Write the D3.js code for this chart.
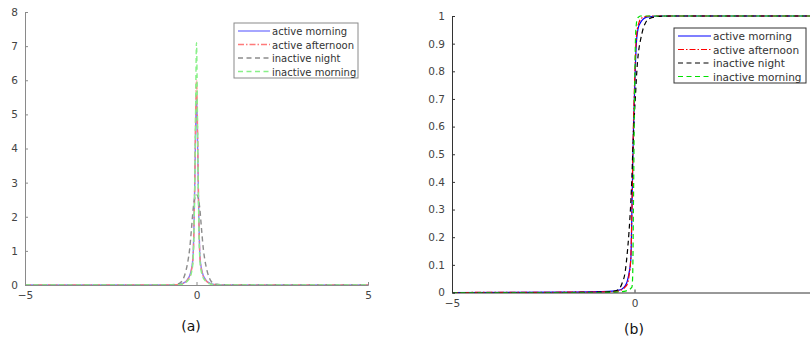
<!DOCTYPE html>
<html>
<head>
<meta charset="utf-8">
<script src="https://cdn.jsdelivr.net/npm/d3@7"></script>
<style>
	body { margin: 0; background: #fff; }
	svg { display: block; font-family: "DejaVu Sans", sans-serif; }
</style>
</head>
<body>
<svg id="chart" width="810" height="342"></svg>
<script>
// series names, shared by both panels
var seriesNames = ['active morning', 'active afternoon', 'inactive night', 'inactive morning'];

// (a) density, x grid + one array per series
var pdfX = [-5, -2, -1, -0.6, -0.5, -0.4, -0.3, -0.25, -0.2, -0.15, -0.1, -0.07, -0.05, -0.03, 0,
	0.03, 0.05, 0.07, 0.1, 0.15, 0.2, 0.25, 0.3, 0.4, 0.5, 0.6, 1, 2, 5];
var pdfActiveMorning = [0, 0, 0, 0.01, 0.02, 0.05, 0.11, 0.18, 0.27, 0.45, 0.85, 1.9, 3.0, 4.3, 5.6,
	4.3, 3.0, 1.9, 0.85, 0.45, 0.27, 0.18, 0.11, 0.05, 0.02, 0.01, 0, 0, 0];
var pdfActiveAfternoon = [0, 0, 0, 0.01, 0.02, 0.04, 0.1, 0.16, 0.25, 0.42, 0.8, 1.9, 3.1, 4.6, 6.0,
	4.6, 3.1, 1.9, 0.8, 0.42, 0.25, 0.16, 0.1, 0.04, 0.02, 0.01, 0, 0, 0];
var pdfInactiveNight = [0, 0, 0, 0.02, 0.05, 0.15, 0.45, 0.7, 1.05, 1.6, 2.2, 2.45, 2.55, 2.62, 2.65,
	2.62, 2.55, 2.45, 2.2, 1.6, 1.05, 0.7, 0.45, 0.15, 0.05, 0.02, 0, 0, 0];
var pdfInactiveMorning = [0, 0, 0, 0.005, 0.01, 0.03, 0.08, 0.13, 0.2, 0.35, 0.7, 1.7, 3.0, 4.8, 7.1,
	4.8, 3.0, 1.7, 0.7, 0.35, 0.2, 0.13, 0.08, 0.03, 0.01, 0.005, 0, 0, 0];

// (b) cumulative, x grid + one array per series
var cdfX = [-5, -2, -1, -0.6, -0.45, -0.35, -0.25, -0.2, -0.15, -0.1, -0.07, -0.05, -0.03, 0,
	0.03, 0.05, 0.08, 0.12, 0.16, 0.2, 0.25, 0.3, 0.4, 0.5, 0.7, 1, 2, 5];
var cdfActiveMorning = [0, 0.001, 0.003, 0.005, 0.008, 0.012, 0.025, 0.04, 0.07, 0.12, 0.3, 0.45, 0.58, 0.72,
	0.84, 0.9, 0.94, 0.965, 0.975, 0.983, 0.99, 0.994, 0.997, 0.999, 1, 1, 1, 1];
var cdfActiveAfternoon = [0, 0.001, 0.002, 0.003, 0.005, 0.01, 0.02, 0.03, 0.06, 0.13, 0.3, 0.46, 0.6, 0.75,
	0.87, 0.92, 0.955, 0.975, 0.988, 0.993, 0.996, 0.998, 1, 1, 1, 1, 1, 1];
var cdfInactiveNight = [0, 0, 0.001, 0.004, 0.01, 0.03, 0.08, 0.14, 0.22, 0.33, 0.42, 0.5, 0.56, 0.65,
	0.72, 0.77, 0.83, 0.88, 0.91, 0.935, 0.96, 0.975, 0.99, 0.995, 0.999, 1, 1, 1];
var cdfInactiveMorning = [0, 0, 0, 0.001, 0.002, 0.003, 0.005, 0.007, 0.01, 0.015, 0.02, 0.06, 0.3, 0.7,
	0.93, 0.97, 0.99, 0.997, 1, 1, 1, 1, 1, 1, 1, 1, 1, 1];

var pdfTicksY = [0, 1, 2, 3, 4, 5, 6, 7, 8];
var cdfTicksY = [0, 0.1, 0.2, 0.3, 0.4, 0.5, 0.6, 0.7, 0.8, 0.9, 1];
var pdfTicksX = [-5, 0, 5];
var cdfTicksX = [-5, 0];   // the 5 falls past the right edge

var dashes = [null, '6,2,1.5,2', '5,3.5', '5,3.5'];
var fadedColors = ['#8080ff', '#ff7a7a', '#8c8c8c', '#88f088'];
var fullColors = ['#0000ff', '#ff0000', '#000000', '#00e000'];

initChart();

function initChart() {
	var svg = d3.select('#chart');

	drawPanel(svg, {
		xRange: [25, 368], yRange: [285, 12], yDomain: [0, 8],
		xs: pdfX, ys: [pdfActiveMorning, pdfActiveAfternoon, pdfInactiveNight, pdfInactiveMorning],
		yTicks: pdfTicksY, xTicks: pdfTicksX, yFmt: d3.format('d'),
		colors: fadedColors, width: 1.4, axisColor: '#8a8a8a', textColor: '#444',
		legend: { x: 234, y: 23, w: 124, h: 55, font: 10, tx: 38 },
		caption: { x: 191, y: 331, text: '(a)' }
	});

	drawPanel(svg, {
		xRange: [452, 817], yRange: [292.5, 16], yDomain: [0, 1],
		xs: cdfX, ys: [cdfActiveMorning, cdfActiveAfternoon, cdfInactiveNight, cdfInactiveMorning],
		yTicks: cdfTicksY, xTicks: cdfTicksX, yFmt: d3.format('.1~f'),
		colors: fullColors, width: 1.2, axisColor: '#333', textColor: '#444',
		legend: { x: 674, y: 28, w: 132, h: 55, font: 10.5, tx: 39 },
		caption: { x: 634, y: 334, text: '(b)' }
	});
}

function drawPanel(svg, p) {
	var x = d3.scaleLinear().domain([-5, 5]).range(p.xRange);
	var y = d3.scaleLinear().domain(p.yDomain).range(p.yRange);
	var g = svg.append('g');

	// lines first so the axis sits on top
	var line = d3.line().curve(d3.curveMonotoneX);
	p.ys.forEach(function(vals, i) {
		g.append('path')
			.attr('d', line(p.xs.map(function(v, j) { return [x(v), y(vals[j])]; })))
			.attr('fill', 'none')
			.attr('stroke', p.colors[i])
			.attr('stroke-width', p.width)
			.attr('stroke-dasharray', dashes[i]);
	});

	var yAxis = g.append('g')
		.attr('transform', `translate(${p.xRange[0]},0)`)
		.call(d3.axisLeft(y).tickValues(p.yTicks).tickFormat(p.yFmt).tickSize(-3).tickPadding(7));
	var xAxis = g.append('g')
		.attr('transform', `translate(0,${p.yRange[0]})`)
		.call(d3.axisBottom(x).tickValues(p.xTicks).tickSize(-3).tickPadding(7));

	[yAxis, xAxis].forEach(function(a) {
		a.selectAll('path, line').attr('stroke', p.axisColor);
		a.selectAll('text')
			.attr('fill', p.textColor)
			.style('font-family', '"DejaVu Sans", sans-serif')
			.style('font-size', '10.5px');
	});

	// legend
	var lg = g.append('g').attr('transform', `translate(${p.legend.x},${p.legend.y})`);
	lg.append('rect')
		.attr('width', p.legend.w)
		.attr('height', p.legend.h)
		.attr('fill', '#fff')
		.attr('stroke', p.axisColor);
	seriesNames.forEach(function(name, i) {
		var ly = 8 + i * 13.5;
		lg.append('line')
			.attr('x1', 4).attr('x2', p.legend.tx - 2)
			.attr('y1', ly).attr('y2', ly)
			.attr('stroke', p.colors[i])
			.attr('stroke-width', p.width)
			.attr('stroke-dasharray', dashes[i]);
		lg.append('text')
			.attr('x', p.legend.tx)
			.attr('y', ly + 4)
			.attr('fill', '#333')
			.style('font-size', p.legend.font + 'px')
			.text(name);
	});

	g.append('text')
		.attr('x', p.caption.x)
		.attr('y', p.caption.y)
		.attr('text-anchor', 'middle')
		.attr('fill', '#111')
		.style('font-size', '14px')
		.text(p.caption.text);
}
</script>
</body>
</html>
